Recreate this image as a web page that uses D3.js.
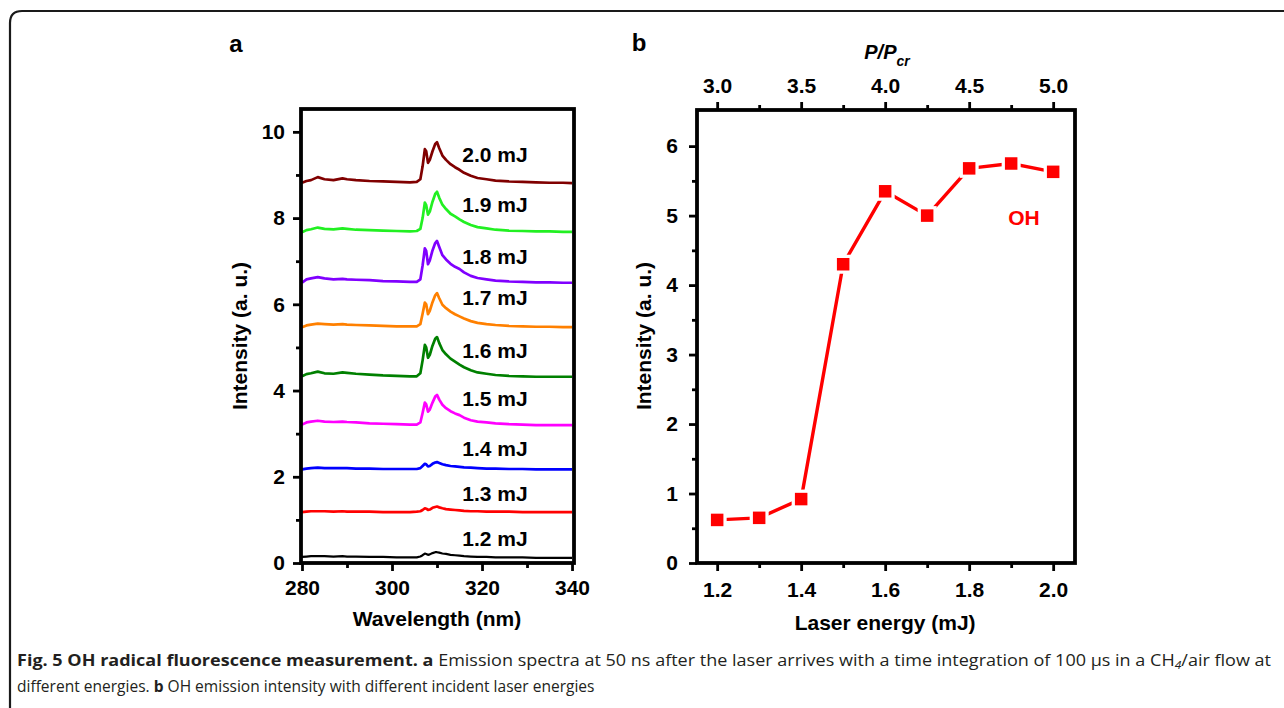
<!DOCTYPE html>
<html>
<head>
<meta charset="utf-8">
<script src="https://cdn.jsdelivr.net/npm/d3@7"></script>
<style>
html,body{margin:0;padding:0;background:#fff;}
svg{display:block;}
</style>
</head>
<body>
<svg id="chart" width="1284" height="708"></svg>
<script>
// ---------- DATA ----------
const wavelengths = [280, 281, 282, 283.5, 285, 287, 289, 290, 292, 295, 298, 301, 304, 305.5, 306.3, 306.8, 307.3, 307.6, 308.0, 308.4, 309.0, 309.6, 310.0, 310.5, 311.2, 312.0, 313.0, 314.0, 315.0, 316.0, 317.5, 319, 321, 323, 326, 329, 332, 335, 338, 340];

const spec12 = [0.14,0.15,0.16,0.16,0.16,0.15,0.16,0.15,0.15,0.14,0.14,0.13,0.13,0.13,0.15,0.18,0.22,0.21,0.19,0.20,0.23,0.25,0.25,0.24,0.22,0.21,0.19,0.18,0.17,0.16,0.15,0.14,0.14,0.13,0.13,0.13,0.12,0.12,0.12,0.12];
const spec13 = [1.18,1.19,1.20,1.20,1.20,1.19,1.20,1.19,1.19,1.19,1.18,1.18,1.18,1.19,1.20,1.23,1.27,1.26,1.23,1.24,1.28,1.30,1.31,1.29,1.27,1.25,1.24,1.23,1.22,1.21,1.20,1.20,1.19,1.19,1.19,1.18,1.18,1.18,1.18,1.18];
const spec14 = [2.17,2.19,2.20,2.21,2.20,2.20,2.20,2.20,2.19,2.19,2.18,2.18,2.18,2.18,2.20,2.25,2.30,2.29,2.24,2.25,2.30,2.33,2.34,2.32,2.29,2.27,2.25,2.24,2.23,2.22,2.21,2.20,2.19,2.19,2.18,2.18,2.17,2.17,2.17,2.17];
const spec15 = [3.21,3.26,3.28,3.30,3.28,3.27,3.28,3.27,3.26,3.24,3.23,3.22,3.21,3.21,3.26,3.48,3.72,3.68,3.51,3.56,3.72,3.86,3.90,3.79,3.67,3.59,3.52,3.47,3.43,3.37,3.31,3.28,3.26,3.24,3.22,3.21,3.20,3.20,3.20,3.20];
const spec16 = [4.33,4.38,4.40,4.44,4.40,4.39,4.42,4.41,4.39,4.37,4.35,4.34,4.33,4.33,4.40,4.70,5.06,5.00,4.76,4.83,5.04,5.20,5.24,5.10,4.94,4.84,4.74,4.67,4.60,4.54,4.47,4.42,4.39,4.36,4.34,4.33,4.32,4.32,4.32,4.32];
const spec17 = [5.47,5.51,5.53,5.55,5.54,5.53,5.54,5.53,5.52,5.51,5.50,5.49,5.49,5.49,5.54,5.78,6.04,6.00,5.77,5.85,6.05,6.21,6.26,6.14,5.99,5.91,5.83,5.77,5.72,5.67,5.61,5.57,5.54,5.52,5.50,5.49,5.48,5.48,5.47,5.47];
const spec18 = [6.50,6.58,6.60,6.63,6.60,6.58,6.59,6.58,6.57,6.56,6.54,6.53,6.52,6.52,6.58,6.90,7.30,7.24,6.93,7.02,7.25,7.42,7.47,7.33,7.14,7.04,6.94,6.87,6.82,6.74,6.66,6.61,6.58,6.55,6.53,6.52,6.51,6.51,6.50,6.50];
const spec19 = [7.67,7.72,7.74,7.78,7.75,7.74,7.76,7.75,7.73,7.72,7.71,7.70,7.69,7.70,7.75,8.00,8.36,8.30,8.08,8.15,8.38,8.56,8.61,8.47,8.31,8.21,8.10,8.04,7.97,7.91,7.84,7.79,7.76,7.73,7.71,7.70,7.69,7.69,7.68,7.68];
const spec20 = [8.82,8.86,8.88,8.95,8.90,8.88,8.92,8.90,8.88,8.86,8.85,8.84,8.83,8.84,8.90,9.20,9.60,9.55,9.28,9.35,9.55,9.72,9.76,9.62,9.45,9.35,9.25,9.18,9.12,9.05,8.98,8.93,8.90,8.87,8.85,8.84,8.83,8.82,8.82,8.81];

const spectraLabels = ["1.2 mJ","1.3 mJ","1.4 mJ","1.5 mJ","1.6 mJ","1.7 mJ","1.8 mJ","1.9 mJ","2.0 mJ"];
const spectraLabelY = [0.56, 1.62, 2.65, 3.81, 4.94, 6.17, 7.10, 8.31, 9.47];
const spectraLabelX = 315.6;
const spectraColors = ["#000000","#ff0000","#0000ff","#ff00ff","#008000","#ff8000","#8000ff","#22f022","#800000"];

const aXTicks = [280, 300, 320, 340];
const aXMinor = [290, 310, 330];
const aYTicks = [0, 2, 4, 6, 8, 10];
const aYMinor = [1, 3, 5, 7, 9];

const laserEnergy = [1.2, 1.3, 1.4, 1.5, 1.6, 1.7, 1.8, 1.9, 2.0];
const ohIntensity = [0.62, 0.65, 0.92, 4.30, 5.35, 5.00, 5.68, 5.75, 5.63];
const bXTicks = [1.2, 1.4, 1.6, 1.8, 2.0];
const bXMinor = [1.3, 1.5, 1.7, 1.9];
const bYTicks = [0, 1, 2, 3, 4, 5, 6];
const bYMinor = [0.5, 1.5, 2.5, 3.5, 4.5, 5.5];
const bTopTicks = [3.0, 3.5, 4.0, 4.5, 5.0];
const bTopMinor = [3.25, 3.75, 4.25, 4.75];
const powerRatioPerMJ = 2.5;

// ---------- DRAW ----------
const svg = d3.select("#chart");
const FONT = "'Liberation Sans', Arial, Helvetica, sans-serif";
const FS = 21;

// outer rounded border (open right/bottom)
svg.append("path")
  .attr("d", "M10,708 L10,23 Q10,11 22,11 L1284,11")
  .attr("fill", "none").attr("stroke", "#1a1a1a").attr("stroke-width", 2.2);

function styleAxis(g, fs) {
  g.select(".domain").remove();
  g.selectAll(".tick line").attr("stroke", "#000").attr("stroke-width", 2.8);
  g.selectAll(".tick text").attr("font-family", FONT).attr("font-weight", "bold")
    .attr("font-size", fs).attr("fill", "#000");
}

// ===== Panel a =====
const A = {l: 301, r: 574, t: 109, b: 563};
const xa = d3.scaleLinear().domain([279.78, 340.44]).range([A.l, A.r]);
const ya = d3.scaleLinear().domain([0, 10.53]).range([A.b, A.t]);

const ga = svg.append("g");
const lineA = d3.line().x((d, i) => xa(wavelengths[i])).y(d => ya(d));
const allSpectra = [spec12, spec13, spec14, spec15, spec16, spec17, spec18, spec19, spec20];
allSpectra.forEach((s, i) => {
  ga.append("path").attr("d", lineA(s)).attr("fill", "none")
    .attr("stroke", spectraColors[i]).attr("stroke-width", i === 0 ? 2.2 : 2.7)
    .attr("stroke-linejoin", "round");
});
spectraLabels.forEach((t, i) => {
  ga.append("text").attr("x", xa(spectraLabelX)).attr("y", ya(spectraLabelY[i]))
    .attr("dy", "0.36em").attr("font-family", FONT).attr("font-weight", "bold")
    .attr("font-size", FS).attr("fill", "#000").text(t);
});

let g;
g = ga.append("g").attr("transform", `translate(0,${A.b})`)
  .call(d3.axisBottom(xa).tickValues(aXTicks).tickSize(8).tickPadding(9).tickFormat(d3.format("d")));
styleAxis(g, FS);
g = ga.append("g").attr("transform", `translate(0,${A.b})`)
  .call(d3.axisBottom(xa).tickValues(aXMinor).tickSize(5).tickFormat(""));
styleAxis(g, FS);
g = ga.append("g").attr("transform", `translate(${A.l},0)`)
  .call(d3.axisLeft(ya).tickValues(aYTicks).tickSize(8).tickPadding(8).tickFormat(d3.format("d")));
styleAxis(g, FS);
g = ga.append("g").attr("transform", `translate(${A.l},0)`)
  .call(d3.axisLeft(ya).tickValues(aYMinor).tickSize(5).tickFormat(""));
styleAxis(g, FS);

ga.append("rect").attr("x", A.l).attr("y", A.t).attr("width", A.r - A.l).attr("height", A.b - A.t)
  .attr("fill", "none").attr("stroke", "#000").attr("stroke-width", 3.8);

ga.append("text").attr("x", (xa(280) + xa(340)) / 2).attr("y", 618).attr("dy", "0.36em")
  .attr("text-anchor", "middle").attr("font-family", FONT).attr("font-weight", "bold")
  .attr("font-size", FS).text("Wavelength (nm)");
ga.append("text").attr("transform", "translate(239,336) rotate(-90)").attr("dy", "0.36em")
  .attr("text-anchor", "middle").attr("font-family", FONT).attr("font-weight", "bold")
  .attr("font-size", FS).text("Intensity (a. u.)");
ga.append("text").attr("x", 236).attr("y", 43).attr("dy", "0.36em").attr("text-anchor", "middle")
  .attr("font-family", FONT).attr("font-weight", "bold").attr("font-size", 24).text("a");

// ===== Panel b =====
const B = {l: 697, r: 1075, t: 110, b: 563};
const xb = d3.scaleLinear().domain([1.152, 2.052]).range([B.l, B.r]);
const xbTop = d3.scaleLinear().domain([1.152 * powerRatioPerMJ, 2.052 * powerRatioPerMJ]).range([B.l, B.r]);
const yb = d3.scaleLinear().domain([0, 6.52]).range([B.b, B.t]);
const gb = svg.append("g");

g = gb.append("g").attr("transform", `translate(0,${B.b})`)
  .call(d3.axisBottom(xb).tickValues(bXTicks).tickSize(8).tickPadding(11).tickFormat(d3.format(".1f")));
styleAxis(g, FS);
g = gb.append("g").attr("transform", `translate(0,${B.b})`)
  .call(d3.axisBottom(xb).tickValues(bXMinor).tickSize(5).tickFormat(""));
styleAxis(g, FS);
g = gb.append("g").attr("transform", `translate(0,${B.t})`)
  .call(d3.axisTop(xbTop).tickValues(bTopTicks).tickSize(8).tickPadding(9).tickFormat(d3.format(".1f")));
styleAxis(g, FS);
g = gb.append("g").attr("transform", `translate(0,${B.t})`)
  .call(d3.axisTop(xbTop).tickValues(bTopMinor).tickSize(5).tickFormat(""));
styleAxis(g, FS);
g = gb.append("g").attr("transform", `translate(${B.l},0)`)
  .call(d3.axisLeft(yb).tickValues(bYTicks).tickSize(8).tickPadding(11).tickFormat(d3.format("d")));
styleAxis(g, FS);
g = gb.append("g").attr("transform", `translate(${B.l},0)`)
  .call(d3.axisLeft(yb).tickValues(bYMinor).tickSize(5).tickFormat(""));
styleAxis(g, FS);

gb.append("rect").attr("x", B.l).attr("y", B.t).attr("width", B.r - B.l).attr("height", B.b - B.t)
  .attr("fill", "none").attr("stroke", "#000").attr("stroke-width", 3.8);

const lineB = d3.line().x((d, i) => xb(laserEnergy[i])).y(d => yb(d));
gb.append("path").attr("d", lineB(ohIntensity)).attr("fill", "none")
  .attr("stroke", "#ff0000").attr("stroke-width", 3.4).attr("stroke-linejoin", "round");
const mk = 12.5, gap = 19;
gb.selectAll("rect.gap").data(ohIntensity).enter().append("rect").attr("class", "gap")
  .attr("x", (d, i) => xb(laserEnergy[i]) - gap / 2).attr("y", d => yb(d) - gap / 2)
  .attr("width", gap).attr("height", gap).attr("fill", "#fff");
gb.selectAll("rect.mk").data(ohIntensity).enter().append("rect").attr("class", "mk")
  .attr("x", (d, i) => xb(laserEnergy[i]) - mk / 2).attr("y", d => yb(d) - mk / 2)
  .attr("width", mk).attr("height", mk).attr("fill", "#ff0000");

gb.append("text").attr("x", 1024).attr("y", 217).attr("dy", "0.36em").attr("text-anchor", "middle")
  .attr("font-family", FONT).attr("font-weight", "bold").attr("font-size", FS)
  .attr("fill", "#ff0000").text("OH");

gb.append("text").attr("x", (xb(1.2) + xb(2.0)) / 2).attr("y", 622).attr("dy", "0.36em")
  .attr("text-anchor", "middle").attr("font-family", FONT).attr("font-weight", "bold")
  .attr("font-size", FS).text("Laser energy (mJ)");
gb.append("text").attr("transform", "translate(643,336) rotate(-90)").attr("dy", "0.36em")
  .attr("text-anchor", "middle").attr("font-family", FONT).attr("font-weight", "bold")
  .attr("font-size", FS).text("Intensity (a. u.)");
gb.append("text").attr("x", 639).attr("y", 42).attr("dy", "0.36em").attr("text-anchor", "middle")
  .attr("font-family", FONT).attr("font-weight", "bold").attr("font-size", 24).text("b");

const ptitle = gb.append("text").attr("x", 887).attr("y", 52).attr("dy", "0.36em")
  .attr("text-anchor", "middle").attr("font-family", FONT).attr("font-weight", "bold")
  .attr("font-style", "italic").attr("font-size", 20);
ptitle.append("tspan").text("P/P");
ptitle.append("tspan").attr("font-size", 14).attr("dy", "0.45em").text("cr");

// ===== Caption (condensed by horizontal scaling to fit the reference width) =====
const CFONT = "'Open Sans', 'Noto Sans', sans-serif";
function captionLine(y, targetWidth, build) {
  const grp = svg.append("g");
  const t = grp.append("text").attr("x", 0).attr("y", 0).attr("font-family", CFONT)
    .attr("font-size", 16.5).attr("fill", "#231f20");
  build(t);
  const w = t.node().getComputedTextLength();
  const sx = w > 0 ? targetWidth / w : 1;
  grp.attr("transform", `translate(17,${y}) scale(${sx},1)`);
}
captionLine(666, 1255, t => {
  t.append("tspan").attr("font-weight", "bold").text("Fig. 5 OH radical fluorescence measurement. a");
  t.append("tspan").text(" Emission spectra at 50 ns after the laser arrives with a time integration of 100 \u00b5s in a CH");
  t.append("tspan").attr("font-size", 11).attr("font-style", "italic").attr("dy", 3).text("4");
  t.append("tspan").attr("dy", -3).text("/air flow at");
});
captionLine(692, 578, t => {
  t.append("tspan").text("different energies. ");
  t.append("tspan").attr("font-weight", "bold").text("b");
  t.append("tspan").text(" OH emission intensity with different incident laser energies");
});
</script>
</body>
</html>
